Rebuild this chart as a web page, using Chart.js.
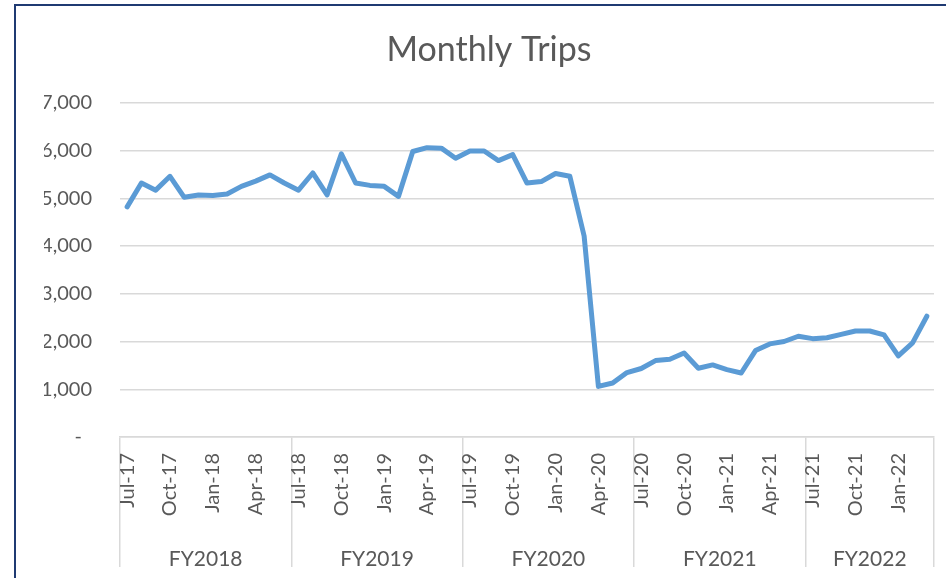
<!DOCTYPE html>
<html>
<head>
<meta charset="utf-8">
<script src="https://cdn.jsdelivr.net/npm/chart.js@4"></script>
<style>
  html, body { margin: 0; padding: 0; width: 946px; height: 578px; overflow: hidden; background: #ffffff; }
  #wrap { position: relative; width: 946px; height: 578px; }
  canvas { position: absolute; left: 0; top: 0; }
  #frame { position: absolute; left: 14px; top: 4px; width: 1000px; height: 700px; border: 2px solid #1F3A72; pointer-events: none; }
</style>
</head>
<body>
<div id="wrap">
  <canvas id="c" width="946" height="578"></canvas>
  <div id="frame"></div>
</div>
<script>
const chartTitle = 'Monthly Trips';

const months = [
  'Jul-17','Aug-17','Sep-17','Oct-17','Nov-17','Dec-17','Jan-18','Feb-18','Mar-18','Apr-18','May-18','Jun-18',
  'Jul-18','Aug-18','Sep-18','Oct-18','Nov-18','Dec-18','Jan-19','Feb-19','Mar-19','Apr-19','May-19','Jun-19',
  'Jul-19','Aug-19','Sep-19','Oct-19','Nov-19','Dec-19','Jan-20','Feb-20','Mar-20','Apr-20','May-20','Jun-20',
  'Jul-20','Aug-20','Sep-20','Oct-20','Nov-20','Dec-20','Jan-21','Feb-21','Mar-21','Apr-21','May-21','Jun-21',
  'Jul-21','Aug-21','Sep-21','Oct-21','Nov-21','Dec-21','Jan-22','Feb-22','Mar-22'
];

const fyLabels = ['FY2018', 'FY2019', 'FY2020', 'FY2021', 'FY2022'];
const fyMonthCounts = [12, 12, 12, 12, 9];

const tripsFY2018 = [4820, 5320, 5170, 5460, 5020, 5070, 5060, 5090, 5250, 5360, 5490, 5320];
const tripsFY2019 = [5170, 5530, 5070, 5930, 5320, 5270, 5250, 5040, 5980, 6060, 6050, 5840];
const tripsFY2020 = [5990, 5990, 5790, 5915, 5320, 5350, 5520, 5460, 4210, 1060, 1130, 1350];
const tripsFY2021 = [1435, 1600, 1630, 1760, 1440, 1510, 1410, 1340, 1810, 1950, 2000, 2110];
const tripsFY2022 = [2060, 2080, 2150, 2220, 2220, 2140, 1700, 1970, 2530];

const yTicks = [0, 1000, 2000, 3000, 4000, 5000, 6000, 7000];

const trips = [].concat(tripsFY2018, tripsFY2019, tripsFY2020, tripsFY2021, tripsFY2022);

// group centres / boundaries in category-index units (derived from counts)
const fyCenters = [];
const fyStarts = [];
let acc = 0;
fyMonthCounts.forEach(n => { fyStarts.push(acc); fyCenters.push(acc + (n - 1) / 2); acc += n; });

const FONT = 'Lato, "Open Sans", sans-serif';
const TXT = '#595959';
const GRID = '#d9d9d9';

new Chart(document.getElementById('c'), {
  type: 'line',
  data: {
    labels: months,
    datasets: [{
      label: 'Trips',
      data: trips,
      borderColor: '#5B9BD5',
      backgroundColor: '#5B9BD5',
      borderWidth: 5,
      pointRadius: 0,
      pointHoverRadius: 0,
      tension: 0,
      borderJoinStyle: 'round',
      borderCapStyle: 'round',
      fill: false
    }]
  },
  options: {
    responsive: false,
    animation: false,
    devicePixelRatio: 1,
    layout: { padding: { left: 44, right: 12, top: 0, bottom: 0 } },
    plugins: {
      legend: { display: false },
      tooltip: { enabled: false },
      title: {
        display: true,
        text: chartTitle,
        color: TXT,
        font: { family: FONT, size: 34, weight: 'normal', lineHeight: 1.2 },
        padding: { top: 30, bottom: 32 }
      }
    },
    scales: {
      y: {
        min: 0,
        max: 7000,
        afterBuildTicks: s => { s.ticks = yTicks.map(v => ({ value: v })); },
        afterFit: s => { s.width = 76; },
        border: { display: false },
        grid: { color: GRID, lineWidth: 1.5, drawTicks: false },
        ticks: {
          color: TXT,
          padding: 28,
          font: { family: FONT, size: 20 },
          callback: v => v === 0 ? '-\u2002' : Number(v).toLocaleString('en-US')
        }
      },
      x: {
        type: 'category',
        position: 'bottom',
        offset: true,
        afterFit: s => { s.height = 80; },
        border: { display: true, color: GRID, width: 1.5 },
        grid: {
          offset: true,
          drawOnChartArea: false,
          drawTicks: true,
          tickLength: 130,
          lineWidth: 1.5,
          color: c => (c.index === undefined || fyStarts.includes(c.index)) ? GRID : 'rgba(0,0,0,0)'
        },
        ticks: {
          autoSkip: false,
          minRotation: 90,
          maxRotation: 90,
          padding: -114,
          color: TXT,
          font: { family: FONT, size: 20 },
          callback: function (v, i) { return i % 3 === 0 ? this.getLabelForValue(v) : ''; }
        }
      },
      x2: {
        type: 'linear',
        position: 'bottom',
        min: -0.5,
        max: months.length - 0.5,
        afterBuildTicks: s => { s.ticks = fyCenters.map(v => ({ value: v })); },
        afterFit: s => { s.height = 61; },
        border: { display: false },
        grid: { display: false },
        ticks: {
          autoSkip: false,
          maxRotation: 0,
          minRotation: 0,
          padding: 22,
          color: TXT,
          font: { family: FONT, size: 21 },
          callback: (v, i) => fyLabels[i]
        }
      }
    }
  }
});
</script>
</body>
</html>
